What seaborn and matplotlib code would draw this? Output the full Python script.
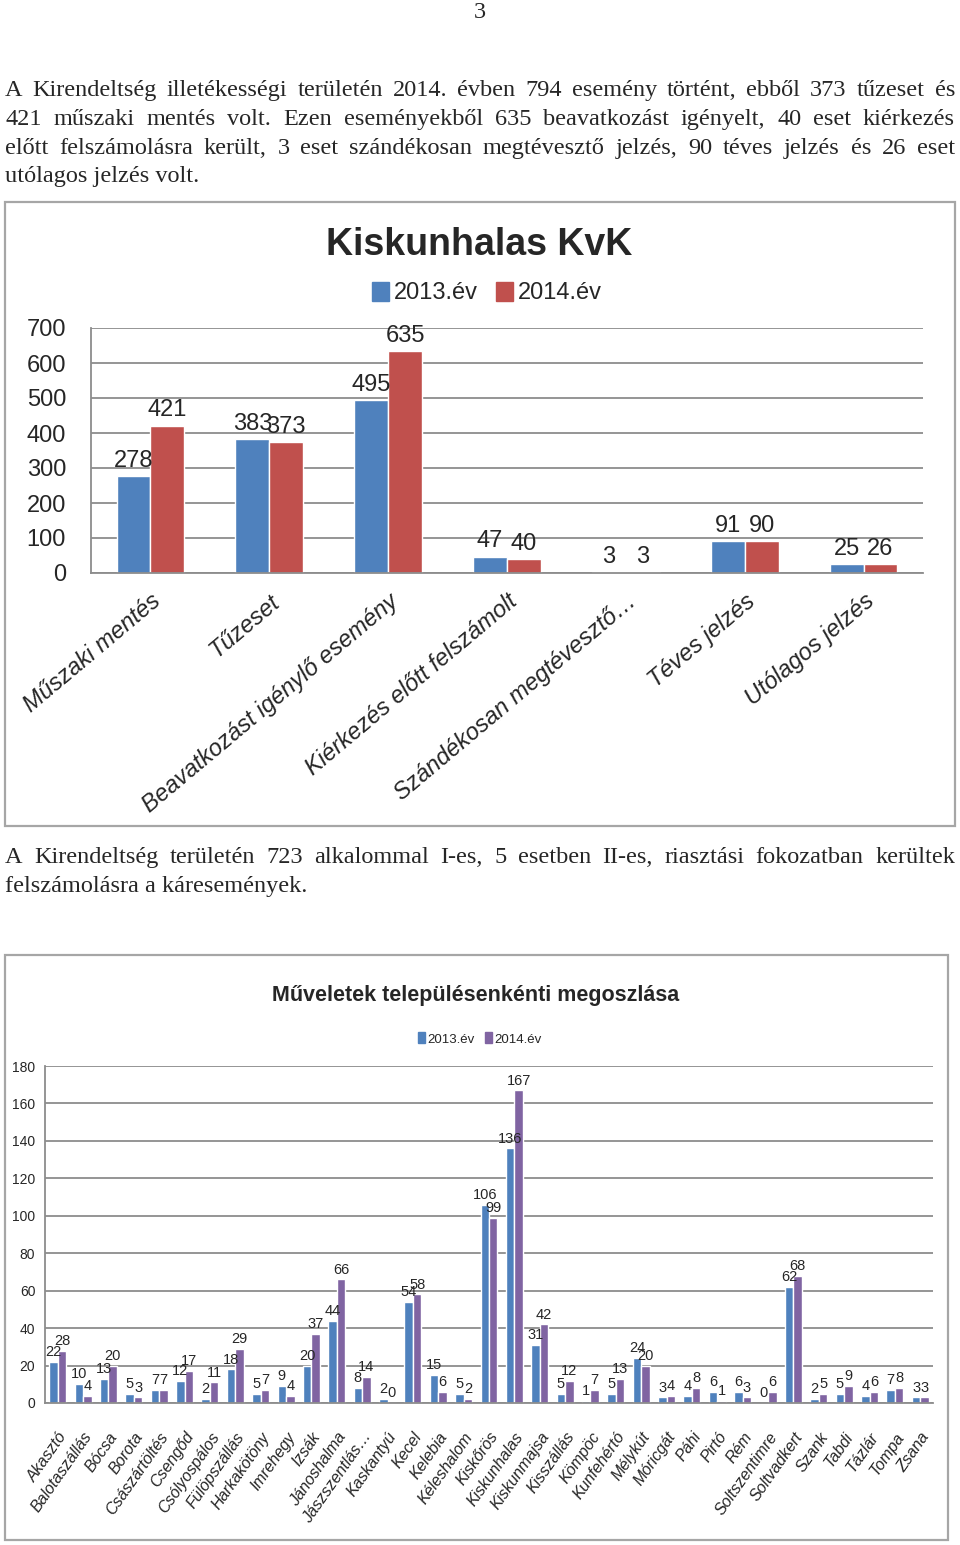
"""Kiskunhalas KvK - esemenyek es telepulesenkenti megoszlas (oldal 3)."""

import matplotlib
matplotlib.use("Agg")

import matplotlib.pyplot as plt
import pandas as pd
import seaborn as sns
from matplotlib.patches import Patch, Rectangle

# ── Adatok ──────────────────────────────────────────────────────────

EVEK = ["2013.év", "2014.év"]

kvk_kategoriak = [
    "Műszaki mentés",
    "Tűzeset",
    "Beavatkozást igénylő esemény",
    "Kiérkezés előtt felszámolt",
    "Szándékosan megtévesztő…",
    "Téves jelzés",
    "Utólagos jelzés",
]
kvk_2013 = [278, 383, 495, 47, 3, 91, 25]
kvk_2014 = [421, 373, 635, 40, 3, 90, 26]

telepulesek = [
    "Akasztó", "Balotaszállás", "Bócsa", "Borota", "Császártöltés",
    "Csengőd", "Csólyospálos", "Fülöpszállás", "Harkakötöny", "Imrehegy",
    "Izsák", "Jánoshalma", "Jászszentlás…", "Kaskantyú", "Kecel",
    "Kelebia", "Kéleshalom", "Kiskőrös", "Kiskunhalas", "Kiskunmajsa",
    "Kisszállás", "Kömpöc", "Kunfehértó", "Mélykút", "Móricgát",
    "Páhi", "Pirtó", "Rém", "Soltszentimre", "Soltvadkert",
    "Szank", "Tabdi", "Tázlár", "Tompa", "Zsana",
]
tel_2013 = [22, 10, 13, 5, 7, 12, 2, 18, 5, 9, 20, 44, 8, 2, 54, 15, 5, 106,
            136, 31, 5, 1, 5, 24, 3, 4, 6, 6, 0, 62, 2, 5, 4, 7, 3]
tel_2014 = [28, 4, 20, 3, 7, 17, 11, 29, 7, 4, 37, 66, 14, 0, 58, 6, 2, 99,
            167, 42, 12, 7, 13, 20, 4, 8, 1, 3, 6, 68, 5, 9, 6, 8, 3]

kvk_yticks = [0, 100, 200, 300, 400, 500, 600, 700]
tel_yticks = [0, 20, 40, 60, 80, 100, 120, 140, 160, 180]

bekezdes_1 = [
    "A Kirendeltség illetékességi területén 2014. évben 794 esemény történt, ebből 373 tűzeset és",
    "421 műszaki mentés volt. Ezen eseményekből 635 beavatkozást igényelt, 40 eset kiérkezés",
    "előtt felszámolásra került, 3 eset szándékosan megtévesztő jelzés, 90 téves jelzés és 26 eset",
    "utólagos jelzés volt.",
]
bekezdes_2 = [
    "A Kirendeltség területén 723 alkalommal I-es, 5 esetben II-es, riasztási fokozatban kerültek",
    "felszámolásra a káresemények.",
]

# ── Megjelenés ──────────────────────────────────────────────────────

W, H = 960, 1545
SERIF = ["Liberation Serif", "DejaVu Serif"]
SANS = ["Liberation Sans", "DejaVu Sans"]
GRID = "#8c8c8c"
FRAME = "#a6a6a6"
TEXT_SIZE = 17.5

sns.set_style("white")
plt.rcParams["font.family"] = SANS


def fx(px):
    return px / W


def fy(py):
    return 1 - py / H


def long_df(cats, v13, v14):
    return pd.DataFrame({
        "kategoria": cats * 2,
        "ev": [EVEK[0]] * len(cats) + [EVEK[1]] * len(cats),
        "ertek": v13 + v14,
    })


def justified(fig, lines, x0, x1, baselines, **kw):
    renderer = fig.canvas.get_renderer()
    for i, (line, yb) in enumerate(zip(lines, baselines)):
        if i == len(lines) - 1:
            fig.text(fx(x0), fy(yb), line, va="baseline", **kw)
            continue
        words = line.split(" ")
        texts = [fig.text(0, fy(yb), w, va="baseline", **kw) for w in words]
        widths = [t.get_window_extent(renderer).width for t in texts]
        gap = (x1 - x0 - sum(widths)) / (len(words) - 1)
        x = x0
        for t, w in zip(texts, widths):
            t.set_x(fx(x))
            x += w + gap


def frame(fig, x0, y0, x1, y1):
    fig.patches.append(Rectangle(
        (fx(x0), fy(y1)), fx(x1) - fx(x0), fy(y0) - fy(y1),
        transform=fig.transFigure, fill=False, edgecolor=FRAME, lw=1.6,
        zorder=0,
    ))


def style_axes(ax):
    for side in ("top", "right"):
        ax.spines[side].set_visible(False)
    for side in ("left", "bottom"):
        ax.spines[side].set_color(GRID)
        ax.spines[side].set_linewidth(1.3)
    ax.yaxis.grid(True, color=GRID, lw=1.3)
    ax.set_axisbelow(True)
    ax.set_facecolor("none")
    ax.set_xlabel("")
    ax.set_ylabel("")
    ax.tick_params(length=0)


fig = plt.figure(figsize=(W / 100, H / 100), dpi=100)

# ── Szöveg ──────────────────────────────────────────────────────────

fig.text(fx(480), fy(12), "3", ha="center", va="center",
         family=SERIF, fontsize=TEXT_SIZE)
justified(fig, bekezdes_1, 5, 955, [96, 125, 154, 182],
          family=SERIF, fontsize=TEXT_SIZE)
justified(fig, bekezdes_2, 5, 955, [863, 892],
          family=SERIF, fontsize=TEXT_SIZE)

# ── 1. diagram: Kiskunhalas KvK ─────────────────────────────────────

frame(fig, 5, 202, 955, 826)
ax1 = fig.add_axes([fx(91), fy(573), fx(923) - fx(91), fy(328) - fy(573)])
sns.barplot(
    data=long_df(kvk_kategoriak, kvk_2013, kvk_2014),
    x="kategoria", y="ertek", hue="ev",
    palette=["#4F81BD", "#C0504D"], saturation=1, width=0.57,
    legend=False, ax=ax1,
)
style_axes(ax1)
ax1.set_ylim(0, 700)
ax1.set_yticks(kvk_yticks)
ax1.set_yticklabels([str(v) for v in kvk_yticks], family=SANS, fontsize=17)
ax1.tick_params(axis="y", pad=18)
ax1.set_xticks(range(len(kvk_kategoriak)))
ax1.set_xticklabels(kvk_kategoriak, rotation=40, ha="right", va="top",
                    rotation_mode="anchor", family=SANS, style="italic",
                    fontsize=17)
ax1.tick_params(axis="x", pad=12)
for cont in ax1.containers:
    ax1.bar_label(cont, padding=3, family=SANS, fontsize=17)

fig.text(fx(479), fy(245), "Kiskunhalas KvK", ha="center", va="center",
         family=SANS, fontweight="bold", fontsize=27)
fig.legend(
    handles=[Patch(color="#4F81BD", label=EVEK[0]),
             Patch(color="#C0504D", label=EVEK[1])],
    loc="center", bbox_to_anchor=(fx(487), fy(293)), ncol=2, frameon=False,
    handlelength=0.7, handleheight=0.9, handletextpad=0.2, columnspacing=0.8,
    prop={"family": SANS, "size": 17},
)

# ── 2. diagram: Műveletek településenkénti megoszlása ───────────────

frame(fig, 5, 955, 948, 1540)
ax2 = fig.add_axes([fx(45), fy(1403), fx(933) - fx(45), fy(1066) - fy(1403)])
sns.barplot(
    data=long_df(telepulesek, tel_2013, tel_2014),
    x="kategoria", y="ertek", hue="ev",
    palette=["#4F81BD", "#8064A2"], saturation=1, width=0.67,
    legend=False, ax=ax2,
)
style_axes(ax2)
ax2.set_ylim(0, 180)
ax2.set_yticks(tel_yticks)
ax2.set_yticklabels([str(v) for v in tel_yticks], family=SANS, fontsize=10)
ax2.tick_params(axis="y", pad=7)
ax2.set_xticks(range(len(telepulesek)))
ax2.set_xticklabels(telepulesek, rotation=55, ha="right", va="top",
                    rotation_mode="anchor", family=SANS, style="italic",
                    fontsize=11.5)
ax2.tick_params(axis="x", pad=19)
for cont in ax2.containers:
    ax2.bar_label(cont, padding=2, family=SANS, fontsize=10.5)

fig.text(fx(476), fy(996), "Műveletek településenkénti megoszlása",
         ha="center", va="center", family=SANS, fontweight="bold",
         fontsize=15.5)
fig.legend(
    handles=[Patch(color="#4F81BD", label=EVEK[0]),
             Patch(color="#8064A2", label=EVEK[1])],
    loc="center", bbox_to_anchor=(fx(480), fy(1039)), ncol=2, frameon=False,
    handlelength=0.5, handleheight=0.9, handletextpad=0.2, columnspacing=0.8,
    prop={"family": SANS, "size": 9.5},
)

fig.savefig("out.png", dpi=100)
plt.close(fig)
